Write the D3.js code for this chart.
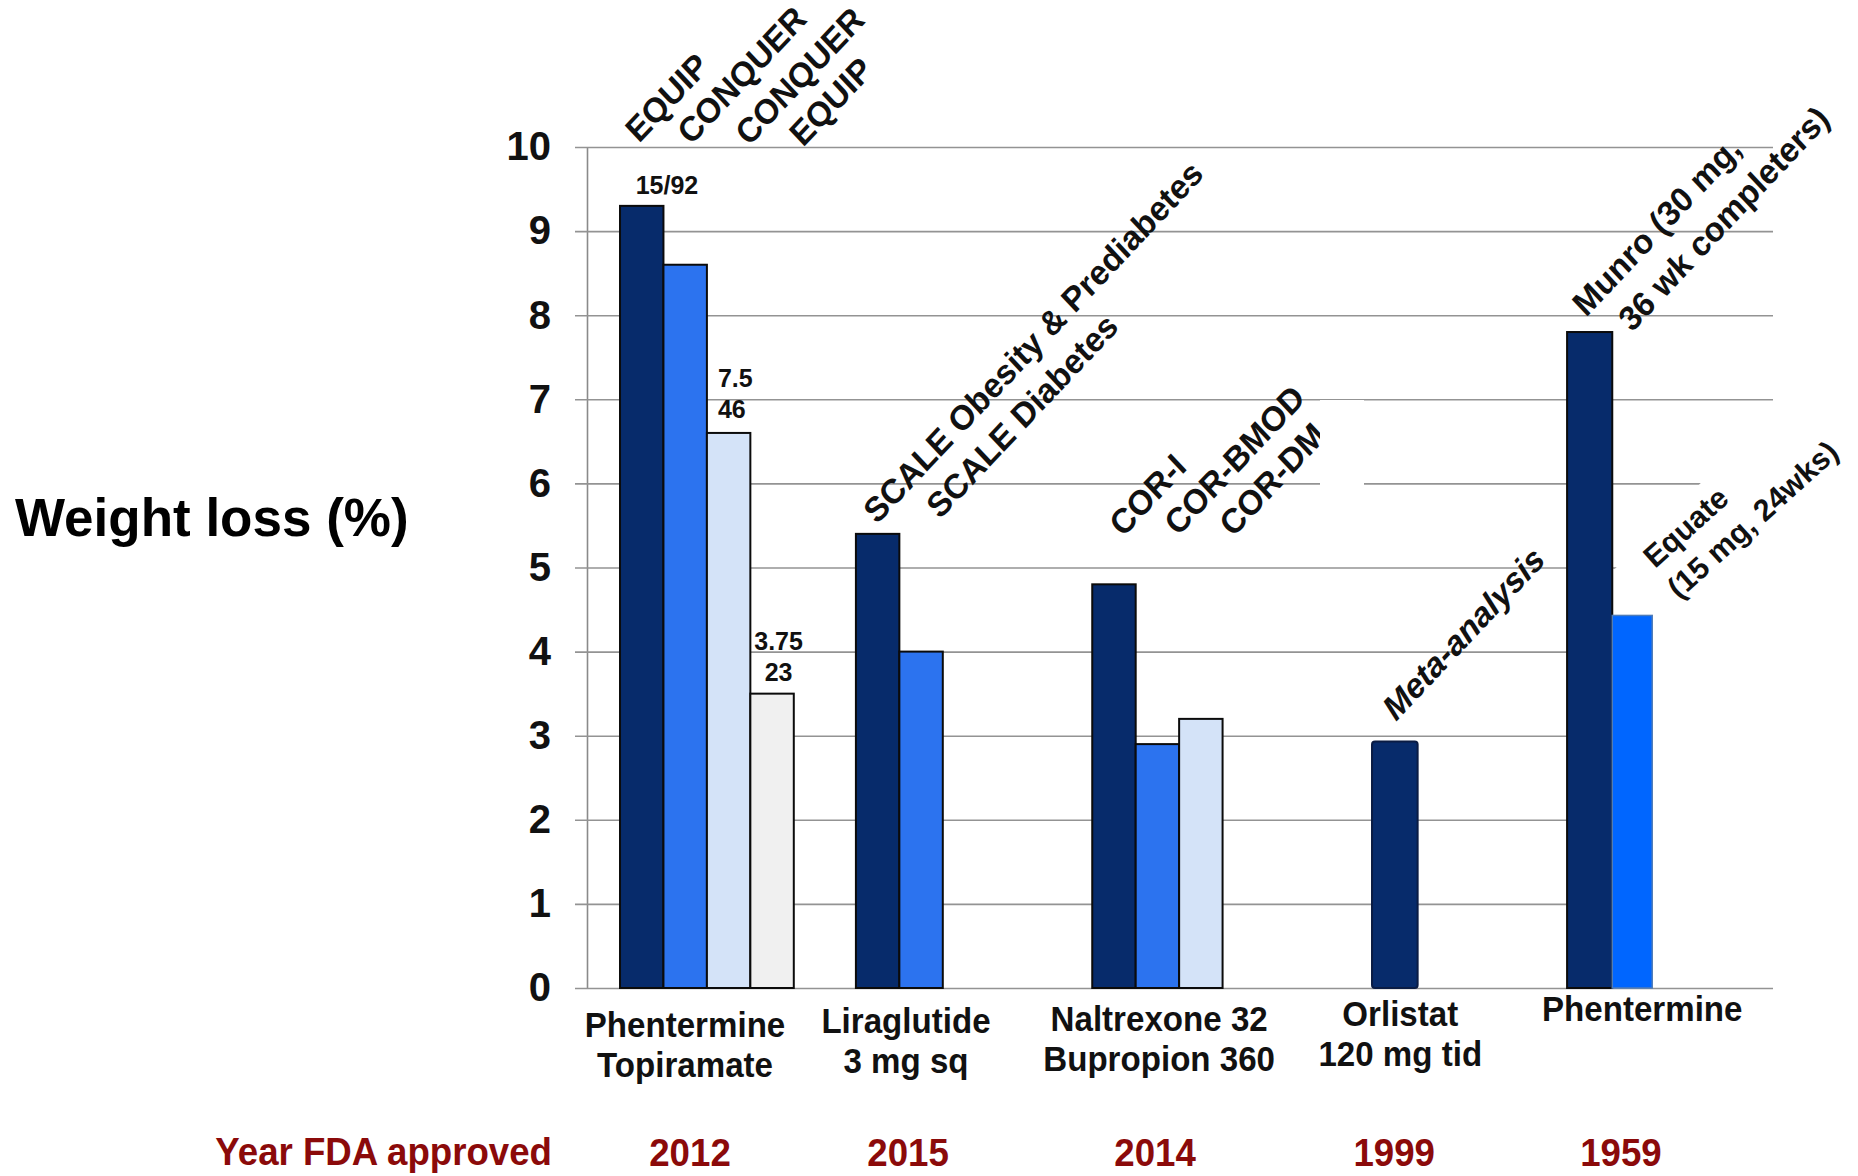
<!DOCTYPE html>
<html>
<head>
<meta charset="utf-8">
<script src="https://cdn.jsdelivr.net/npm/d3@7"></script>
<style>
  html, body { margin: 0; padding: 0; background: #ffffff; }
  svg text { font-family: "Liberation Sans", Arial, Helvetica, sans-serif; font-weight: bold; }
</style>
</head>
<body>
<svg id="chart" width="1858" height="1176"></svg>
<script>
// ---- data ----
const drugLabels = [
  ["Phentermine", "Topiramate"],
  ["Liraglutide", "3 mg sq"],
  ["Naltrexone 32", "Bupropion 360"],
  ["Orlistat", "120 mg tid"],
  ["Phentermine"]
];
const approvalYears = ["2012", "2015", "2014", "1999", "1959"];
const weightLoss = [
  [9.3, 8.6, 6.6, 3.5],
  [5.4, 4.0],
  [4.8, 2.9, 3.2],
  [2.93],
  [7.8, 4.43]
];
const trialLabels = [
  [["EQUIP"], ["CONQUER"], ["CONQUER"], ["EQUIP"]],
  [["SCALE Obesity & Prediabetes"], ["SCALE Diabetes"]],
  [["COR-I"], ["COR-BMOD"], ["COR-DM"]],
  [["Meta-analysis"]],
  [["Munro (30 mg,", "36 wk completers)"], ["Equate", "(15 mg, 24wks)"]]
];
const doseLabels = [["15/92"], [], ["7.5", "46"], ["3.75", "23"]];
const yTicks = [0, 1, 2, 3, 4, 5, 6, 7, 8, 9, 10];

// ---- layout ----
const W = 1858, H = 1176;
const plot = { left: 587, right: 1773, top: 147, bottom: 988 };
const slots = 27.3;                                   // bar-width units across the plot
const groupStart = [0.76, 6.19, 11.63, 18.07, 22.56]; // first bar of each drug, in slot units
const barSpan = [[1, 1, 1, 1], [1, 1], [1, 1, 1], [1.05], [1.04, 0.92]];
const labelAt = [2.256, 7.343, 13.17, 18.72, 24.29];  // centre of drug name, slot units
const yearAt = [2.371, 7.39, 13.075, 18.58, 23.80];
const labelLift = [0, 4, 6, 11, 16];

const fills = [
  ["#072b6b", "#2c73ef", "#d4e3f8", "#f0f0f0"],
  ["#072b6b", "#2c73ef"],
  ["#072b6b", "#2c73ef", "#d4e3f8"],
  ["#072b6b"],
  ["#072b6b", "#0066ff"]
];
const strokes = [
  ["#0b0b0b", "#0b0b0b", "#0b0b0b", "#0b0b0b"],
  ["#0b0b0b", "#0b0b0b"],
  ["#0b0b0b", "#0b0b0b", "#0b0b0b"],
  ["#0a1c44"],
  ["#0b0b0b", "#4f7cb8"]
];

// rotated trial-name anchors (baseline start, px), one list of lines per bar
const trialPos = [
  [[[639, 144]], [[691, 146]], [[749, 147]], [[803, 148]]],
  [[[877, 525]], [[940, 520]]],
  [[[1123, 538]], [[1178, 537]], [[1233, 538]]],
  [[[1396, 722]]],
  [[[1586, 318], [1632, 333]], [[1655, 569], [1679, 600]]]
];
// caption slant: [rotation, vertical stretch, font size]
const trialTilt = [
  [[-45, 1.065, 32.5], [-45, 1.065, 32.5], [-45, 1.065, 32.5], [-45, 1.065, 32.5]],
  [[-45, 1.065, 32.5], [-45, 1.065, 32.5]],
  [[-45, 1.065, 32.5], [-45, 1.065, 32.5], [-45, 1.065, 32.5]],
  [[-45, 1.065, 32.5]],
  [[-45, 1.065, 32.5], [-42, 1.0, 30.5]]
];

const svg = d3.select("#chart");
svg.append("rect").attr("width", W).attr("height", H).attr("fill", "#fff");

const x = d3.scaleLinear().domain([0, slots]).range([plot.left, plot.right]);
const y = d3.scaleLinear().domain([0, 10]).range([plot.bottom, plot.top]);

// ---- value axis with gridlines ----
const yAxis = d3.axisLeft(y)
  .tickValues(yTicks)
  .tickFormat(d3.format("d"))
  .tickSizeInner(-(plot.right - plot.left))
  .tickSizeOuter(0)
  .tickPadding(36);

const gAxis = svg.append("g")
  .attr("transform", `translate(${plot.left},0)`)
  .call(yAxis);
gAxis.select(".domain").attr("stroke", "#8a8a8a").attr("stroke-width", 1.6);
gAxis.selectAll(".tick line")
  .attr("x1", -12)
  .attr("stroke", "#939393")
  .attr("stroke-width", 1.6);
gAxis.selectAll(".tick text")
  .attr("fill", "#111")
  .style("font-size", "40px")
  .style("font-family", "'Liberation Sans', Arial, sans-serif")
  .style("font-weight", "bold");

// white panel behind the Equate caption hides the grid to its lower right
const edge = x(groupStart[4] + barSpan[4][0]);
const diag = edge + y(5) + 4; // x + y along the panel's upper edge
svg.append("polygon")
  .attr("points", [
    [edge, diag - edge],
    [plot.right + 2, diag - plot.right - 2],
    [plot.right + 2, plot.bottom - 3],
    [edge, plot.bottom - 3]
  ].map(p => p.join(",")).join(" "))
  .attr("fill", "#fff");

// ---- bars ----
const bars = [];
weightLoss.forEach((vals, g) => {
  let pos = groupStart[g];
  vals.forEach((v, i) => {
    bars.push({ g, i, v, x0: pos, span: barSpan[g][i] });
    pos += barSpan[g][i];
  });
});

svg.append("g").selectAll("rect")
  .data(bars)
  .join("rect")
  .attr("x", d => x(d.x0))
  .attr("y", d => y(d.v))
  .attr("width", d => x(d.x0 + d.span) - x(d.x0))
  .attr("height", d => y(0) - y(d.v))
  .attr("rx", d => d.g === 3 ? 3 : 0)
  .attr("fill", d => fills[d.g][d.i])
  .attr("stroke", d => strokes[d.g][d.i])
  .attr("stroke-width", d => d.g === 4 && d.i === 1 ? 1.5 : 2);

// ---- dose annotations on the first drug ----
const g0 = bars.filter(b => b.g === 0);
const dose = svg.append("g").attr("fill", "#111").style("font-size", "25px");
dose.append("text")
  .attr("x", x(g0[0].x0 + 1.08)).attr("y", y(g0[0].v) - 12)
  .attr("text-anchor", "middle").text(doseLabels[0][0]);
doseLabels[2].forEach((t, k) => {
  dose.append("text")
    .attr("x", x(g0[2].x0) + 11).attr("y", y(g0[2].v) - 46 + k * 31)
    .attr("text-anchor", "start").text(t);
});
doseLabels[3].forEach((t, k) => {
  dose.append("text")
    .attr("x", x(g0[3].x0 + 0.65)).attr("y", y(g0[3].v) - 44 + k * 31)
    .attr("text-anchor", "middle").text(t);
});

// ---- rotated trial names ----
const trials = svg.append("g").attr("fill", "#111");
trialLabels.forEach((grp, g) => {
  grp.forEach((lines, i) => {
    const [angle, stretch, size] = trialTilt[g][i];
    lines.forEach((t, k) => {
      const [px, py] = trialPos[g][i][k];
      trials.append("text")
        .attr("transform", `translate(${px},${py}) scale(1,${stretch}) rotate(${angle})`)
        .style("font-size", `${size}px`)
        .style("font-style", g === 3 ? "italic" : "normal")
        .text(t);
    });
  });
});

// white box clipping the end of the COR-DM caption
svg.append("rect")
  .attr("x", 1320).attr("y", 400)
  .attr("width", 44).attr("height", 88)
  .attr("fill", "#fff");

// ---- drug names under the bars ----
const names = svg.append("g").attr("fill", "#111");
drugLabels.forEach((lines, g) => {
  lines.forEach((t, k) => {
    names.append("text")
      .attr("transform", `translate(${x(labelAt[g])},${1037 - labelLift[g] + k * 39.5}) scale(0.92,1)`)
      .attr("text-anchor", "middle")
      .style("font-size", "36px")
      .text(t);
  });
});

// ---- approval years ----
const yearRow = svg.append("g").attr("fill", "#8b0a0a");
yearRow.append("text")
  .attr("transform", "translate(552,1165) scale(0.94,1)")
  .attr("text-anchor", "end")
  .style("font-size", "39px")
  .text("Year FDA approved");
approvalYears.forEach((t, g) => {
  yearRow.append("text")
    .attr("transform", `translate(${x(yearAt[g])},1166) scale(0.94,1)`)
    .attr("text-anchor", "middle")
    .style("font-size", "39px")
    .text(t);
});

// ---- value axis title ----
svg.append("text")
  .attr("x", 15).attr("y", 536)
  .attr("fill", "#000")
  .style("font-size", "53px")
  .text("Weight loss (%)");
</script>
</body>
</html>
